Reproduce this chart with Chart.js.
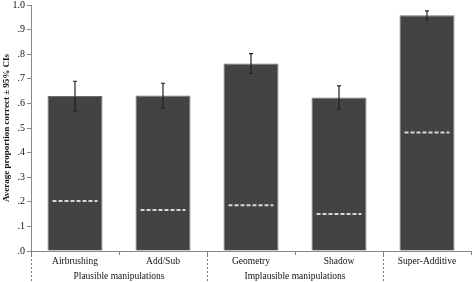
<!DOCTYPE html>
<html>
<head>
<meta charset="utf-8">
<script src="https://cdn.jsdelivr.net/npm/chart.js@4"></script>
<style>
    html, body { margin: 0; padding: 0; background: #fff; }
    #wrap { width: 472px; height: 282px; position: relative; }
</style>
</head>
<body>
<div id="wrap"><canvas id="proportion-chart"></canvas></div>
<script>
var categories = ['Airbrushing', 'Add/Sub', 'Geometry', 'Shadow', 'Super-Additive'];
var mean_values = [0.630, 0.632, 0.762, 0.624, 0.958];
var ci_values = [0.060, 0.050, 0.040, 0.047, 0.018];
var chance_values = [0.203, 0.167, 0.186, 0.150, 0.482];
var group_labels = ['Plausible manipulations', 'Implausible manipulations', ''];
var group_sizes = [2, 2, 1];

var SERIF = '"Liberation Serif", "Times New Roman", serif';

// error bars, chance lines, group labels under the axis
var extrasPlugin = {
    id: 'extras',
    afterDatasetsDraw: function (chart) {
        var ctx = chart.ctx;
        var x = chart.scales.x;
        var y = chart.scales.y;
        var meta = chart.getDatasetMeta(0);

        ctx.save();
        $each(meta.data, function (i, bar) {
            var half = bar.width / 2;

            // chance level
            ctx.strokeStyle = '#d8d8d8';
            ctx.lineWidth = 2;
            ctx.setLineDash([4, 2]);
            ctx.beginPath();
            ctx.moveTo(bar.x - half + 5, y.getPixelForValue(chance_values[i]));
            ctx.lineTo(bar.x + half - 5, y.getPixelForValue(chance_values[i]));
            ctx.stroke();
            ctx.setLineDash([]);

            // confidence interval
            var top = y.getPixelForValue(mean_values[i] + ci_values[i]);
            var bottom = y.getPixelForValue(mean_values[i] - ci_values[i]);
            ctx.strokeStyle = '#222';
            ctx.lineWidth = 1.2;
            ctx.beginPath();
            ctx.moveTo(bar.x, top);
            ctx.lineTo(bar.x, bottom);
            ctx.moveTo(bar.x - 2, top);
            ctx.lineTo(bar.x + 2, top);
            ctx.moveTo(bar.x - 2, bottom);
            ctx.lineTo(bar.x + 2, bottom);
            ctx.stroke();
        });

        // group separators and labels
        var step = (x.right - x.left) / categories.length;
        var start = 0;
        ctx.font = '9.5px ' + SERIF;
        ctx.fillStyle = '#111';
        ctx.textAlign = 'center';
        ctx.textBaseline = 'middle';
        for (var g = 0; g < group_sizes.length; g++) {
            var gx = Math.round(x.left + start * step) + 0.5;
            ctx.strokeStyle = '#777';
            ctx.lineWidth = 1;
            ctx.setLineDash([2, 2]);
            ctx.beginPath();
            ctx.moveTo(gx, y.bottom);
            ctx.lineTo(gx, chart.height);
            ctx.stroke();
            ctx.setLineDash([]);
            if (group_labels[g]) {
                ctx.fillText(group_labels[g], x.left + (start + group_sizes[g] / 2) * step, 276);
            }
            start += group_sizes[g];
        }
        ctx.restore();
    }
};

function $each(list, fn) {
    for (var i = 0; i < list.length; i++) {
        fn(i, list[i]);
    }
}

var ctx = document.getElementById('proportion-chart');
var ProportionChart = new Chart(ctx, {
    type: 'bar',
    data: {
        labels: categories,
        datasets: [{
            label: 'Average proportion correct',
            data: mean_values,
            backgroundColor: '#434343',
            borderColor: '#6e6e6e',
            borderWidth: 1,
            categoryPercentage: 1,
            barPercentage: 0.625
        }]
    },
    plugins: [extrasPlugin],
    options: {
        responsive: true,
        maintainAspectRatio: false,
        animation: false,
        layout: {
            padding: { top: 0, right: 1, bottom: 0, left: 0 }
        },
        plugins: {
            legend: false,
            tooltip: { enabled: false }
        },
        scales: {
            x: {
                grid: {
                    display: true,
                    drawOnChartArea: false,
                    offset: true,
                    tickLength: 4,
                    color: '#888'
                },
                border: { color: '#888' },
                ticks: {
                    color: '#111',
                    padding: 1,
                    font: { family: SERIF, size: 9.5 }
                },
                afterFit: function (scale) {
                    scale.height = 31;
                }
            },
            y: {
                min: 0,
                max: 1,
                grid: {
                    display: true,
                    drawOnChartArea: false,
                    tickLength: 4,
                    color: '#888'
                },
                border: { color: '#888' },
                ticks: {
                    stepSize: 0.1,
                    color: '#111',
                    padding: 2,
                    font: { family: SERIF, size: 10 },
                    callback: function (value) {
                        var v = Math.round(value * 10) / 10;
                        if (v >= 1) return '1.0';
                        return '.' + Math.round(v * 10);
                    }
                },
                title: {
                    display: true,
                    text: 'Average proportion correct \u00b1 95% CIs',
                    color: '#111',
                    padding: { top: 1, bottom: 1 },
                    font: { family: SERIF, size: 9, weight: 'bold' }
                },
                afterFit: function (scale) {
                    scale.width = 31;
                    scale.paddingTop = 5;
                }
            }
        }
    }
});
</script>
</body>
</html>
